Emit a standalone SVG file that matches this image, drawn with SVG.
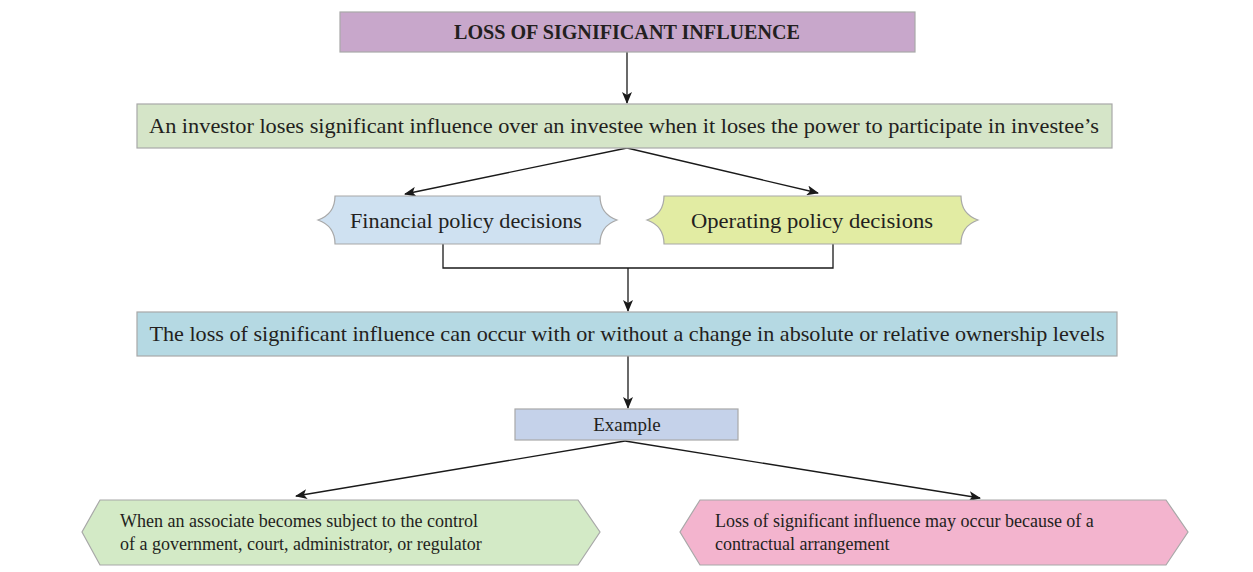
<svg xmlns="http://www.w3.org/2000/svg" width="1253" height="572" viewBox="0 0 1253 572">
<defs>
<marker id="ah" viewBox="0 0 12 10" refX="11" refY="5" markerWidth="12" markerHeight="10" markerUnits="userSpaceOnUse" orient="auto">
<path d="M0,0 L12,5 L0,10 L3,5 Z" fill="#1a1a1a"/>
</marker>
<style>
.box{stroke:#a8a8a8;stroke-width:1.2}
.t{font-family:"Liberation Serif","Times New Roman",serif;font-size:18px;fill:#231f20}
.c{text-anchor:middle}
.s19{font-size:19px}
.s20{font-size:20px}
.s21{font-size:21px}
.b{font-weight:bold}
.ln{stroke:#1a1a1a;stroke-width:1.3;fill:none}
</style>
</defs>
<rect width="1253" height="572" fill="#ffffff"/>
<g id="connectors">
<line class="ln" x1="627" y1="52" x2="627" y2="103" marker-end="url(#ah)"/>
<line class="ln" x1="627" y1="148" x2="405" y2="194" marker-end="url(#ah)"/>
<line class="ln" x1="627" y1="148" x2="818" y2="193" marker-end="url(#ah)"/>
<polyline class="ln" points="443,244 443,268 833,268 833,244"/>
<line class="ln" x1="628" y1="268" x2="628" y2="311" marker-end="url(#ah)"/>
<line class="ln" x1="628" y1="356" x2="628" y2="408" marker-end="url(#ah)"/>
<line class="ln" x1="625" y1="441" x2="296" y2="496" marker-end="url(#ah)"/>
<line class="ln" x1="625" y1="441" x2="980" y2="498" marker-end="url(#ah)"/>
</g>
<g id="n_title">
<rect class="box" x="340" y="12" width="575" height="40" fill="#c8a7cb"/>
<text class="t c b s20" x="627" y="39" textLength="346" lengthAdjust="spacingAndGlyphs">LOSS OF SIGNIFICANT INFLUENCE</text>
</g>
<g id="n_investor">
<rect class="box" x="137" y="104" width="975" height="44" fill="#d5e5c8"/>
<text class="t c s21" x="624" y="133" textLength="950" lengthAdjust="spacingAndGlyphs">An investor loses significant influence over an investee when it loses the power to participate in investee’s</text>
</g>
<g id="n_financial">
<path class="box" fill="#cfe1f1" d="M335,196 H600 Q600,214 617,220 Q600,226 600,244 H335 Q335,226 318,220 Q335,214 335,196 Z"/>
<text class="t c s21" x="466" y="228" textLength="232" lengthAdjust="spacingAndGlyphs">Financial policy decisions</text>
</g>
<g id="n_operating">
<path class="box" fill="#e2eca3" d="M664,196 H961 Q961,214 978,220 Q961,226 961,244 H664 Q664,226 647,220 Q664,214 664,196 Z"/>
<text class="t c s21" x="812" y="228" textLength="242" lengthAdjust="spacingAndGlyphs">Operating policy decisions</text>
</g>
<g id="n_loss">
<rect class="box" x="137" y="312" width="980" height="44" fill="#b5d9e3"/>
<text class="t c s21" x="627" y="341" textLength="955" lengthAdjust="spacingAndGlyphs">The loss of significant influence can occur with or without a change in absolute or relative ownership levels</text>
</g>
<g id="n_example">
<rect class="box" x="515" y="409" width="223" height="31" fill="#c5d2ea"/>
<text class="t c s19" x="627" y="431">Example</text>
</g>
<g id="n_government">
<path class="box" fill="#d3eac6" d="M100,500 H578 L600,532 L578,565 H100 L82,532 Z"/>
<text class="t" x="120" y="527" textLength="358" lengthAdjust="spacingAndGlyphs">When an associate becomes subject to the control</text>
<text class="t" x="120" y="550">of a government, court, administrator, or regulator</text>
</g>
<g id="n_contract">
<path class="box" fill="#f3b4ce" d="M700,500 H1166 L1188,532 L1166,565 H700 L680,532 Z"/>
<text class="t" x="715" y="527">Loss of significant influence may occur because of a</text>
<text class="t" x="715" y="550">contractual arrangement</text>
</g>
</svg>
